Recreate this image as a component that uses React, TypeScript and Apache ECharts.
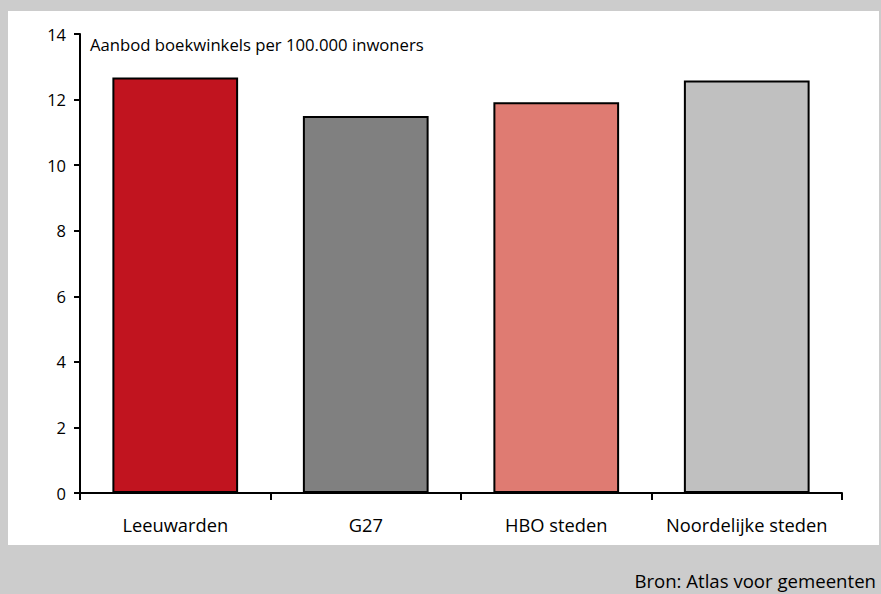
import React, { useEffect, useRef } from "react";
import * as echarts from "echarts";

const categories = ["Leeuwarden", "G27", "HBO steden", "Noordelijke steden"];
const values = [12.67, 11.5, 11.92, 12.58];
const barColors = ["#C1141F", "#808080", "#DF7B72", "#C0C0C0"];
const titleText = "Aanbod boekwinkels per 100.000 inwoners";
const sourceText = "Bron: Atlas voor gemeenten";

const FONT = "'Open Sans', 'Noto Sans', sans-serif";

export default function App() {
  const ref = useRef<HTMLDivElement>(null);
  useEffect(() => {
    document.body.style.margin = "0";
    const chart = echarts.init(ref.current!, null, { renderer: "svg" });
    chart.setOption({
      animation: false,
      backgroundColor: "#cccccc",
      textStyle: { fontFamily: FONT },
      graphic: [
        {
          type: "rect",
          z: -10,
          silent: true,
          shape: { x: 8, y: 11, width: 871, height: 534 },
          style: { fill: "#ffffff" },
        },
        {
          type: "text",
          x: 90,
          y: 44,
          z: 10,
          style: {
            text: titleText,
            fontSize: 16.7,
            fontFamily: FONT,
            fill: "#000",
            verticalAlign: "middle",
          },
        },
        {
          type: "text",
          x: 876,
          y: 580,
          style: {
            text: sourceText,
            fontSize: 18.6,
            fontFamily: FONT,
            fill: "#000",
            align: "right",
            verticalAlign: "middle",
          },
        },
      ],
      grid: { left: 80, right: 39, top: 34, bottom: 101, containLabel: false },
      xAxis: {
        type: "category",
        data: categories,
        axisLine: { show: true, lineStyle: { color: "#000", width: 2 } },
        axisTick: { show: true, interval: 0, alignWithLabel: false, length: 7, lineStyle: { color: "#000", width: 2 } },
        axisLabel: { color: "#000", fontSize: 18.3, margin: 22, interval: 0, hideOverlap: false, fontFamily: FONT },
      },
      yAxis: {
        type: "value",
        min: 0,
        max: 14,
        interval: 2,
        splitLine: { show: false },
        axisLine: { show: true, lineStyle: { color: "#000", width: 2 } },
        axisTick: { show: true, length: 6, lineStyle: { color: "#000", width: 2 } },
        axisLabel: { color: "#000", fontSize: 16.5, margin: 14, fontFamily: FONT },
      },
      series: [
        {
          type: "bar",
          barWidth: "66%",
          data: values.map((v, i) => ({
            value: v,
            itemStyle: { color: barColors[i], borderColor: "#000", borderWidth: 2 },
          })),
        },
      ],
    });
    return () => chart.dispose();
  }, []);
  return <div ref={ref} style={{ width: 881, height: 594 }} />;
}
